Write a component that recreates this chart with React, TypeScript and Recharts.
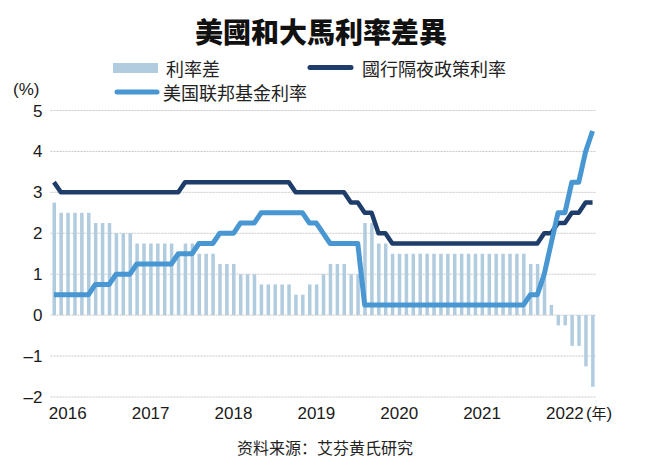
import React from 'react';
import { ComposedChart, Bar, Line, XAxis, YAxis, CartesianGrid } from 'recharts';

// monthly, Jun 2016 .. Dec 2022
const months: string[] = [];
{
  let y = 2016;
  let m = 6;
  while (months.length < 79) {
    months.push(`${y}-${String(m).padStart(2, '0')}`);
    m += 1;
    if (m > 12) {
      m = 1;
      y += 1;
    }
  }
}

// 利率差 (%)
const spread = [
  2.75, 2.5, 2.5, 2.5, 2.5, 2.5, 2.25, 2.25, 2.25, 2.0, 2.0, 2.0,
  1.75, 1.75, 1.75, 1.75, 1.75, 1.75, 1.5, 1.75, 1.75, 1.5, 1.5, 1.5,
  1.25, 1.25, 1.25, 1.0, 1.0, 1.0, 0.75, 0.75, 0.75, 0.75, 0.75, 0.5,
  0.5, 0.75, 0.75, 1.0, 1.25, 1.25, 1.25, 1.0, 1.0, 2.25, 2.25, 1.75,
  1.75, 1.5, 1.5, 1.5, 1.5, 1.5, 1.5, 1.5, 1.5, 1.5, 1.5, 1.5,
  1.5, 1.5, 1.5, 1.5, 1.5, 1.5, 1.5, 1.5, 1.5, 1.25, 1.25, 1.0,
  0.25, -0.25, -0.25, -0.75, -0.75, -1.25, -1.75,
];

// 國行隔夜政策利率 (%)
const opr = [
  3.25, 3.0, 3.0, 3.0, 3.0, 3.0, 3.0, 3.0, 3.0, 3.0, 3.0, 3.0,
  3.0, 3.0, 3.0, 3.0, 3.0, 3.0, 3.0, 3.25, 3.25, 3.25, 3.25, 3.25,
  3.25, 3.25, 3.25, 3.25, 3.25, 3.25, 3.25, 3.25, 3.25, 3.25, 3.25, 3.0,
  3.0, 3.0, 3.0, 3.0, 3.0, 3.0, 3.0, 2.75, 2.75, 2.5, 2.5, 2.0,
  2.0, 1.75, 1.75, 1.75, 1.75, 1.75, 1.75, 1.75, 1.75, 1.75, 1.75, 1.75,
  1.75, 1.75, 1.75, 1.75, 1.75, 1.75, 1.75, 1.75, 1.75, 1.75, 1.75, 2.0,
  2.0, 2.25, 2.25, 2.5, 2.5, 2.75, 2.75,
];

// 美国联邦基金利率 (%)
const fed = [
  0.5, 0.5, 0.5, 0.5, 0.5, 0.5, 0.75, 0.75, 0.75, 1.0, 1.0, 1.0,
  1.25, 1.25, 1.25, 1.25, 1.25, 1.25, 1.5, 1.5, 1.5, 1.75, 1.75, 1.75,
  2.0, 2.0, 2.0, 2.25, 2.25, 2.25, 2.5, 2.5, 2.5, 2.5, 2.5, 2.5,
  2.5, 2.25, 2.25, 2.0, 1.75, 1.75, 1.75, 1.75, 1.75, 0.25, 0.25, 0.25,
  0.25, 0.25, 0.25, 0.25, 0.25, 0.25, 0.25, 0.25, 0.25, 0.25, 0.25, 0.25,
  0.25, 0.25, 0.25, 0.25, 0.25, 0.25, 0.25, 0.25, 0.25, 0.5, 0.5, 1.0,
  1.75, 2.5, 2.5, 3.25, 3.25, 4.0, 4.5,
];

const yearTicks = ['2016-08', '2017-08', '2018-08', '2019-08', '2020-08', '2021-08', '2022-08'];
const yearLabels = ['2016', '2017', '2018', '2019', '2020', '2021', '2022'];
const yTicks = [-2, -1, 0, 1, 2, 3, 4, 5];

const data = months.map((m, i) => ({ m, spread: spread[i], opr: opr[i], fed: fed[i] }));

const BAR = '#b1cbdf';
const NAVY = '#1f3d6b';
const BLUE = '#4897d2';
const NUM_FONT = '"Liberation Sans Narrow", "Liberation Sans", Arial, sans-serif';
const CJK_FONT = '"Noto Sans CJK TC", "Noto Sans CJK SC", sans-serif';

const YearTick = (props: any) => {
  const { x, y, payload } = props;
  const i = yearTicks.indexOf(payload.value);
  return (
    <g>
      <text x={x} y={y} dy={14} textAnchor="middle" fontSize={17} fill="#1a1a1a" fontFamily={NUM_FONT}>
        {yearLabels[i]}
      </text>
      {i === yearLabels.length - 1 && (
        <text x={x + 21} y={y} dy={14} textAnchor="start" fontSize={17} fill="#1a1a1a" fontFamily={NUM_FONT}>
          (<tspan fontFamily={CJK_FONT} fontSize={15}>年</tspan>)
        </text>
      )}
    </g>
  );
};

const App: React.FC = () => {
  return (
    <div style={{ position: 'absolute', left: 0, top: 0, width: 648, height: 470, background: '#fff' }}>
      <ComposedChart
        width={648}
        height={470}
        data={data}
        margin={{ top: 110.5, right: 52, bottom: 45, left: 0 }}
        barCategoryGap={0}
      >
        <CartesianGrid vertical={false} stroke="#c8c8c8" strokeDasharray="2 1" />
        <XAxis
          dataKey="m"
          ticks={yearTicks}
          interval={0}
          axisLine={false}
          tickLine={false}
          height={28}
          tick={<YearTick />}
        />
        <YAxis
          domain={[-2, 5]}
          ticks={yTicks}
          width={50.5}
          axisLine={false}
          tickLine={false}
          tick={{ fill: '#1a1a1a', fontSize: 17, fontFamily: NUM_FONT }}
          tickFormatter={(v: number) => String(v).replace('-', '–')}
        />
        <Bar dataKey="spread" fill={BAR} barSize={3.5} isAnimationActive={false} />
        <Line
          type="linear"
          dataKey="opr"
          stroke={NAVY}
          strokeWidth={4.5}
          strokeLinejoin="round"
          dot={false}
          activeDot={false}
          isAnimationActive={false}
        />
        <Line
          type="linear"
          dataKey="fed"
          stroke={BLUE}
          strokeWidth={5}
          strokeLinejoin="round"
          dot={false}
          activeDot={false}
          isAnimationActive={false}
        />
      </ComposedChart>
      <svg
        width={648}
        height={470}
        style={{ position: 'absolute', left: 0, top: 0, pointerEvents: 'none' }}
      >
        <text x={321} y={31} textAnchor="middle" dominantBaseline="central" fontSize={28} fontWeight={900} fill="#111" fontFamily={CJK_FONT}>
          美國和大馬利率差異
        </text>
        <rect x={113} y={63} width={45} height={10} fill={BAR} />
        <text x={166} y={68} dominantBaseline="central" fontSize={18} fill="#222" fontFamily={CJK_FONT}>利率差</text>
        <line x1={310} y1={67.5} x2={351} y2={67.5} stroke={NAVY} strokeWidth={5} strokeLinecap="round" />
        <text x={362} y={68} dominantBaseline="central" fontSize={18} fill="#222" fontFamily={CJK_FONT}>國行隔夜政策利率</text>
        <line x1={117} y1={92} x2={157} y2={92} stroke={BLUE} strokeWidth={5} strokeLinecap="round" />
        <text x={163} y={92} dominantBaseline="central" fontSize={18} fill="#222" fontFamily={'"Noto Sans CJK SC", sans-serif'}>美国联邦基金利率</text>
        <text x={13} y={89} dominantBaseline="central" fontSize={17} fill="#1a1a1a" fontFamily={NUM_FONT}>(%)</text>
        <text x={325} y={447} textAnchor="middle" dominantBaseline="central" fontSize={16} fill="#222" fontFamily={'"Noto Sans CJK SC", sans-serif'}>
          资料来源：艾芬黄氏研究
        </text>
      </svg>
    </div>
  );
};

export default App;
